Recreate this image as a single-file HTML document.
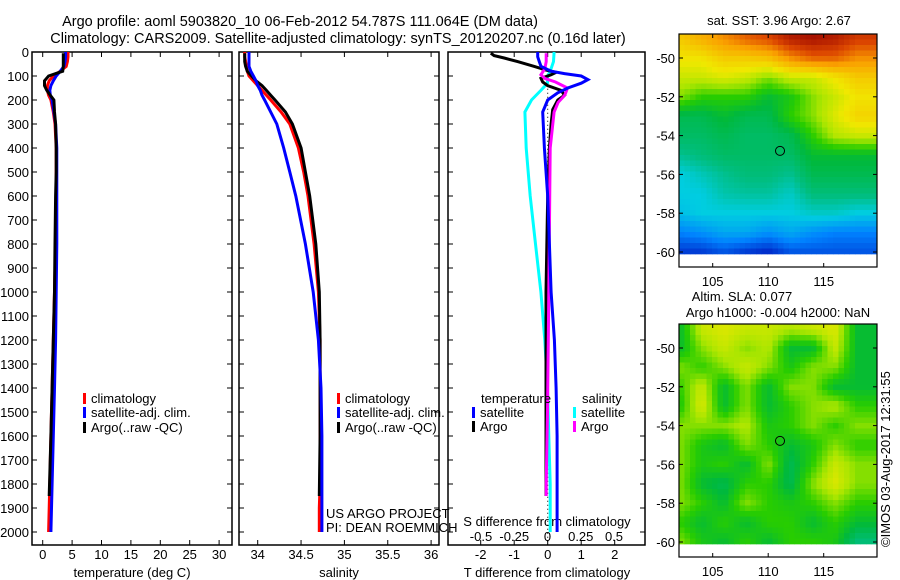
<!DOCTYPE html>
<html><head><meta charset="utf-8"><style>
html,body{margin:0;padding:0;background:#fff;}
svg{display:block;font-family:"Liberation Sans",sans-serif;}
text{fill:#000;}
</style></head><body>
<svg id="chart" width="900" height="580" viewBox="0 0 900 580" xmlns="http://www.w3.org/2000/svg">
<text x="300" y="26" font-size="14.5" text-anchor="middle">Argo profile: aoml 5903820_10 06-Feb-2012 54.787S 111.064E (DM data)</text>
<text x="338" y="43" font-size="14.5" text-anchor="middle">Climatology: CARS2009. Satellite-adjusted climatology: synTS_20120207.nc (0.16d later)</text>
<g id="g"></g>
</svg>
<script>
// ---- data ----
const depthT = [0,20,40,60,80,100,120,140,160,180,200,250,300,400,500,600,800,1000,1200,1400,1600,1800,1900,2000];
const climT = [4.3,4.3,4.2,4.0,3.0,1.8,1.1,0.8,0.8,1.0,1.4,1.8,2.1,2.3,2.3,2.3,2.2,2.0,1.8,1.6,1.4,1.2,1.1,1.0];
const satT = [3.9,3.9,3.8,3.6,3.0,2.3,1.8,1.4,1.2,1.3,1.6,1.9,2.2,2.4,2.4,2.4,2.4,2.3,2.2,2.0,1.8,1.6,1.5,1.4];
const depthArgo = [5,20,40,60,80,100,120,140,160,180,200,250,300,400,500,600,800,1000,1200,1400,1600,1850];
const argoT = [3.5,3.5,3.5,3.5,3.4,1.0,0.3,0.3,0.7,1.3,1.9,2.0,2.2,2.3,2.3,2.2,2.1,2.0,1.8,1.6,1.4,1.1];
const climS = [33.85,33.85,33.86,33.87,33.88,33.9,33.95,34.0,34.05,34.1,34.15,34.27,34.37,34.47,34.53,34.58,34.65,34.7,34.72,34.72,34.72,34.72,34.71,34.71];
const satS = [33.9,33.9,33.9,33.9,33.92,33.95,33.98,34.0,34.03,34.05,34.08,34.15,34.22,34.3,34.37,34.44,34.55,34.64,34.7,34.73,34.74,34.74,34.74,34.74];
const argoS = [33.85,33.85,33.85,33.86,33.88,33.93,33.98,34.05,34.1,34.15,34.2,34.32,34.4,34.5,34.55,34.6,34.67,34.71,34.72,34.72,34.72,34.71];
const depthSatTd = [0,20,40,60,80,90,100,115,130,150,170,200,250,400,600,800,1000,1200,1400,1600,1800,2000];
const satTd = [-0.3,-0.3,-0.25,-0.2,0.1,0.5,1.0,1.2,1.0,0.6,0.3,0.0,-0.15,-0.1,0.0,0.05,0.1,0.2,0.25,0.28,0.28,0.28];
const depthArgoTd = [5,15,25,40,60,75,85,95,110,125,140,160,180,200,240,300,400,600,1000,1400,1800,1850];
const argoTd = [-1.7,-1.6,-1.3,-0.9,-0.4,-0.05,0.25,0.1,-0.2,-0.15,0.0,0.4,0.5,0.3,0.15,0.1,0.05,0.0,-0.05,-0.05,-0.05,-0.05];
const depthSatSd = [0,40,80,100,130,160,200,250,400,600,800,1000,1200,1400,1600,1800,2000];
const satSd = [0.05,0.045,0.02,0.0,0.0,-0.05,-0.12,-0.17,-0.16,-0.13,-0.09,-0.05,-0.02,0.0,0.01,0.02,0.02];
const depthArgoSd = [5,40,70,95,110,125,150,180,210,250,400,1000,1500,1800,1850];
const argoSd = [-0.01,-0.01,-0.02,-0.05,-0.02,0.06,0.15,0.13,0.08,0.05,0.02,0.01,0.0,-0.01,-0.01];
const depthTicks = [0,100,200,300,400,500,600,700,800,900,1000,1100,1200,1300,1400,1500,1600,1700,1800,1900,2000];
const tempTicks = [0,5,10,15,20,25,30];
const salTicks = [34,34.5,35,35.5,36];
const tdTicks = [-2,-1,0,1,2];
const sdTicks = [-0.5,-0.25,0,0.25,0.5];
const lonTicks = [105,110,115];
const latTicks = [-50,-52,-54,-56,-58,-60];
const sstGrid = [
[0.70,0.75,0.80,0.85,0.88,0.95,0.97,0.95,0.90],
[0.65,0.65,0.70,0.70,0.72,0.80,0.85,0.85,0.80],
[0.60,0.60,0.62,0.60,0.55,0.60,0.60,0.65,0.70],
[0.55,0.50,0.50,0.50,0.45,0.48,0.55,0.60,0.65],
[0.42,0.42,0.45,0.42,0.42,0.50,0.55,0.62,0.68],
[0.40,0.40,0.42,0.40,0.40,0.42,0.50,0.58,0.60],
[0.36,0.38,0.40,0.40,0.40,0.40,0.45,0.45,0.45],
[0.30,0.33,0.36,0.38,0.38,0.36,0.42,0.42,0.42],
[0.30,0.30,0.34,0.35,0.35,0.32,0.38,0.38,0.38],
[0.28,0.30,0.30,0.30,0.30,0.30,0.32,0.32,0.30],
[0.20,0.22,0.25,0.25,0.22,0.25,0.22,0.20,0.20],
[0.12,0.12,0.15,0.12,0.10,0.15,0.15,0.15,0.15]];
const slaGrid = [
[0.45,0.60,0.62,0.60,0.60,0.58,0.60,0.62,0.45],
[0.45,0.55,0.60,0.55,0.58,0.45,0.45,0.60,0.45],
[0.55,0.50,0.55,0.60,0.55,0.48,0.55,0.55,0.45],
[0.50,0.60,0.45,0.55,0.45,0.55,0.55,0.45,0.45],
[0.48,0.62,0.45,0.55,0.45,0.50,0.55,0.58,0.50],
[0.55,0.55,0.55,0.58,0.48,0.50,0.55,0.50,0.55],
[0.55,0.48,0.45,0.55,0.50,0.45,0.48,0.55,0.50],
[0.55,0.48,0.50,0.45,0.55,0.42,0.50,0.60,0.55],
[0.55,0.45,0.42,0.50,0.50,0.42,0.55,0.62,0.55],
[0.55,0.50,0.45,0.55,0.50,0.48,0.50,0.55,0.50],
[0.50,0.45,0.50,0.45,0.50,0.50,0.45,0.50,0.45],
[0.55,0.48,0.45,0.50,0.45,0.50,0.50,0.48,0.38]];
const floatLon = 111.064, floatLat = -54.787;

// ---- helpers ----
const NS='http://www.w3.org/2000/svg';
const G=document.getElementById('g');
function el(tag,attrs,txt){const e=document.createElementNS(NS,tag);for(const k in attrs)e.setAttribute(k,attrs[k]);if(txt!==undefined)e.textContent=txt;G.appendChild(e);return e;}
const yD = d => 52 + d*0.24;
const xT = t => 42.7 + t*5.88;
const xS = s => 257.7 + (s-34)*86.7;
const xTd = t => 547.7 + t*33.5;
const xSd = s => 547.5 + s*133;
const PT=52, PB=545;

function line(depths, vals, fx, color, name){
  const pts = depths.map((d,i)=>fx(vals[i]).toFixed(1)+','+yD(d).toFixed(1)).join(' ');
  const p=el('polyline',{points:pts,fill:'none',stroke:color,'stroke-width':3,'stroke-linejoin':'miter'});
  
  
}
function frame(x1,x2,name){
  const r=el('rect',{x:x1,y:PT,width:x2-x1,height:PB-PT,fill:'none',stroke:'#000','stroke-width':1.5});
  
  
}

frame(32,232,'temperature-panel');
frame(239,439,'salinity-panel');
frame(448,645,'difference-panel');

depthTicks.forEach(d=>{
  const y=yD(d);
  [[32,37],[227,232],[239,244],[434,439],[448,453],[640,645]].forEach(p=>el('line',{x1:p[0],x2:p[1],y1:y,y2:y,stroke:'#000'}));
  const t=el('text',{x:29,y:y+5,'font-size':13,'text-anchor':'end'},String(d));
  
  
});
tempTicks.forEach(v=>{
  const x=xT(v);
  el('line',{x1:x,x2:x,y1:PT,y2:PT+5,stroke:'#000'});el('line',{x1:x,x2:x,y1:PB-5,y2:PB,stroke:'#000'});
  const t=el('text',{x:x,y:559,'font-size':13,'text-anchor':'middle'},String(v));
  
  
});
salTicks.forEach(v=>{
  const x=xS(v);
  el('line',{x1:x,x2:x,y1:PT,y2:PT+5,stroke:'#000'});el('line',{x1:x,x2:x,y1:PB-5,y2:PB,stroke:'#000'});
  const t=el('text',{x:x,y:559,'font-size':13,'text-anchor':'middle'},String(v));
  
  
});
tdTicks.forEach(v=>{
  const x=xTd(v);
  el('line',{x1:x,x2:x,y1:PT,y2:PT+5,stroke:'#000'});el('line',{x1:x,x2:x,y1:PB-5,y2:PB,stroke:'#000'});
  const t=el('text',{x:x,y:559,'font-size':13,'text-anchor':'middle'},String(v));
  
  
});
sdTicks.forEach(v=>{
  const x=xSd(v);
  const t=el('text',{x:x,y:541,'font-size':13,'text-anchor':'middle'},String(v));
  
  
});
[['temperature (deg C)',132,'temperature-axis-title'],['salinity',339,'salinity-axis-title'],['T difference from climatology',547,'T-diff-axis-title']].forEach(a=>{
  const t=el('text',{x:a[1],y:577,'font-size':13,'text-anchor':'middle'},a[0]);
  
  
});
{const t=el('text',{x:547,y:526,'font-size':13,'text-anchor':'middle'},'S difference from climatology');

}

el('line',{x1:xTd(0),x2:xTd(0),y1:yD(120),y2:PB,stroke:'#000','stroke-dasharray':'1,3'});

line(depthT,climT,xT,'#ff0000','temp-climatology-line');
line(depthT,satT,xT,'#0000ff','temp-satellite-line');
line(depthArgo,argoT,xT,'#000000','temp-argo-line');
line(depthT,climS,xS,'#ff0000','salinity-climatology-line');
line(depthArgo,argoS,xS,'#000000','salinity-argo-line');
line(depthT,satS,xS,'#0000ff','salinity-satellite-line');
line(depthSatSd,satSd,xSd,'#00ffff','S-diff-satellite-line');
line(depthArgoTd,argoTd,xTd,'#000000','T-diff-argo-line');
line(depthArgoSd,argoSd,xSd,'#ff00ff','S-diff-argo-line');
line(depthSatTd,satTd,xTd,'#0000ff','T-diff-satellite-line');

function leg(x,y,color,label,name){
  const r=el('rect',{x:x,y:y-10,width:3,height:11,fill:color});
  
  
  const t=el('text',{x:x+8,y:y,'font-size':13},label);
  
  
}
leg(83,403,'#ff0000','climatology','legend-climatology');
leg(83,417,'#0000ff','satellite-adj. clim.','legend-satellite');
leg(83,432,'#000000','Argo(..raw -QC)','legend-argo');
leg(337,403,'#ff0000','climatology','legend-climatology-2');
leg(337,417,'#0000ff','satellite-adj. clim.','legend-satellite-2');
leg(337,432,'#000000','Argo(..raw -QC)','legend-argo-2');
{const t=el('text',{x:481,y:403,'font-size':13},'temperature');}
{const t=el('text',{x:582,y:403,'font-size':13},'salinity');}
leg(472,417,'#0000ff','satellite','legend-T-satellite');
leg(472,431,'#000000','Argo','legend-T-argo');
leg(573,417,'#00ffff','satellite','legend-S-satellite');
leg(573,431,'#ff00ff','Argo','legend-S-argo');
{const t=el('text',{x:326,y:518,'font-size':13},'US ARGO PROJECT');}
{const t=el('text',{x:326,y:532,'font-size':13},'PI: DEAN ROEMMICH');}

// colormap tuned to reference appearance
const cmapStops=[[0.0,[0,0,140]],[0.1,[0,40,200]],[0.2,[0,130,255]],[0.3,[0,205,225]],[0.37,[0,190,130]],[0.44,[0,185,60]],[0.5,[40,205,0]],[0.57,[170,230,0]],[0.64,[240,232,0]],[0.78,[250,160,0]],[0.88,[220,70,0]],[1.0,[150,0,0]]];
function cmap(v){
  v=Math.max(0,Math.min(1,v));
  for(let i=1;i<cmapStops.length;i++){
    const a=cmapStops[i-1],b=cmapStops[i];
    if(v<=b[0]){const t=(v-a[0])/(b[0]-a[0]);
      return `rgb(${Math.round(a[1][0]+(b[1][0]-a[1][0])*t)},${Math.round(a[1][1]+(b[1][1]-a[1][1])*t)},${Math.round(a[1][2]+(b[1][2]-a[1][2])*t)})`;}
  }
  return 'rgb(150,0,0)';
}
function map(top,grid,name){
  const L=679,R=877,B=top+233;
  const lonX = lon => 712.7 + (lon-105)*11.1;
  const latY = lat => top+24 + (-50-lat)*19.4;
  const nr=grid.length,nc=grid[0].length;
  const cell=5.5;
  const yBot=latY(-60.1);
  for(let y=top;y<yBot;y+=cell){
    for(let x=L;x<R;x+=cell){
      const lat=-50-((y+cell/2)-(top+24))/19.4, lon=105+((x+cell/2)-712.7)/11.1;
      let fr=(-49-lat), fc=(lon-102)/2;
      fr=Math.max(0,Math.min(nr-1.001,fr)); fc=Math.max(0,Math.min(nc-1.001,fc));
      const r0=Math.floor(fr),c0=Math.floor(fc),dr=fr-r0,dc=fc-c0;
      const v=grid[r0][c0]*(1-dr)*(1-dc)+grid[r0+1][c0]*dr*(1-dc)+grid[r0][c0+1]*(1-dr)*dc+grid[r0+1][c0+1]*dr*dc;
      el('rect',{x:x.toFixed(1),y:y.toFixed(1),width:cell+0.4,height:Math.min(cell,yBot-y)+0.4,fill:cmap(v)});
    }
  }
  const f=el('rect',{x:L,y:top,width:R-L,height:B-top,fill:'none',stroke:'#000','stroke-width':1.2});
  
  
  lonTicks.forEach(v=>{const x=lonX(v);el('line',{x1:x,x2:x,y1:B,y2:B-4,stroke:'#000'});el('line',{x1:x,x2:x,y1:top,y2:top+4,stroke:'#000'});
    const t=el('text',{x:x,y:B+19,'font-size':13,'text-anchor':'middle'},String(v));
    
    });
  latTicks.forEach(v=>{const y=latY(v);el('line',{x1:L,x2:L+4,y1:y,y2:y,stroke:'#000'});el('line',{x1:R-4,x2:R,y1:y,y2:y,stroke:'#000'});
    const t=el('text',{x:L-4,y:y+5,'font-size':13,'text-anchor':'end'},String(v));
    
    });
  const c=el('circle',{cx:lonX(floatLon),cy:latY(floatLat),r:4.5,fill:'none',stroke:'#000','stroke-width':1});
  
  
}
map(34,sstGrid,'sst-map');
map(324,slaGrid,'sla-map');
{const t=el('text',{x:779,y:25,'font-size':13,'text-anchor':'middle'},'sat. SST: 3.96 Argo: 2.67');}
{const t=el('text',{x:742,y:301,'font-size':13,'text-anchor':'middle'},'Altim. SLA: 0.077');}
{const t=el('text',{x:778,y:317,'font-size':13,'text-anchor':'middle'},'Argo h1000: -0.004 h2000: NaN');}
{const t=el('text',{x:0,y:0,'font-size':13,transform:'translate(890,547) rotate(-90)'},'©IMOS 03-Aug-2017 12:31:55');}
</script>
</body></html>
